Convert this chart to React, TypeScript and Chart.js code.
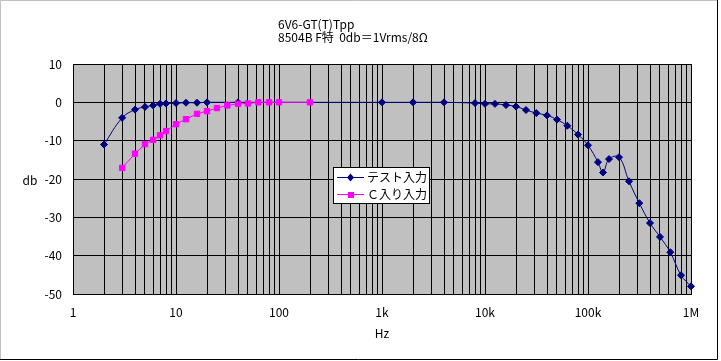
import React, { useEffect, useRef } from 'react';
import { Chart, registerables } from 'chart.js';

Chart.register(...registerables);

// ---- Data ----
const titleLines = ['6V6-GT(T)Tpp', '8504B F特  0db＝1Vrms/8Ω'];
const xAxisTitle = 'Hz';
const yAxisTitle = 'db';
const seriesNames = ['テスト入力', 'Ｃ入り入力'];

const testFreq = [2, 3, 4, 5, 6, 7, 8, 10, 12.5, 16, 20, 40, 1000, 2000, 4000, 8000, 10000, 12500, 16000, 20000, 25000, 31500, 40000, 50000, 63000, 80000, 100000, 125000, 140000, 160000, 200000, 250000, 315000, 400000, 500000, 630000, 800000, 1000000];
const testDb = [-11.0, -4.05, -1.9, -1.2, -0.8, -0.4, -0.3, -0.2, -0.1, -0.1, 0, 0, 0, 0, 0, -0.2, -0.4, -0.4, -0.7, -1.1, -2.0, -2.8, -3.4, -4.5, -6.1, -8.4, -11.2, -15.6, -18.3, -14.8, -14.3, -20.6, -26.3, -31.5, -35.1, -39.1, -45.1, -48.0];

const capFreq = [3, 4, 5, 6, 7, 8, 10, 12.5, 16, 20, 25, 31.5, 40, 50, 63, 80, 100, 200];
const capDb = [-17.1, -13.4, -10.9, -9.8, -8.6, -7.5, -5.7, -4.4, -3.0, -2.3, -1.5, -0.8, -0.4, -0.3, 0, 0, 0, 0];

const xTickValues = [1, 10, 100, 1000, 10000, 100000, 1000000];
const xTickLabels = ['1', '10', '100', '1k', '10k', '100k', '1M'];
const yMin = -50;
const yMax = 10;
const yStep = 10;

const BLUE = '#000080';
const PINK = '#FF00FF';
const FONT = '"Noto Sans CJK JP", "Noto Sans", sans-serif';

const minorTicks: number[] = [];
for (let e = 0; e < 6; e++) {
  for (let m = 1; m <= 9; m++) minorTicks.push(m * Math.pow(10, e));
}
minorTicks.push(1000000);

const decor = {
  id: 'decor',
  beforeDraw(chart: any) {
    const { ctx, chartArea: a } = chart;
    ctx.save();
    ctx.fillStyle = '#ffffff';
    ctx.fillRect(0, 0, chart.width, chart.height);
    ctx.fillStyle = '#c0c0c0';
    ctx.fillRect(a.left, a.top, a.right - a.left, a.bottom - a.top);
    ctx.restore();
  },
  afterDraw(chart: any) {
    const { ctx } = chart;
    ctx.save();
    // frame
    ctx.lineWidth = 1;
    ctx.strokeStyle = '#c0c0c0';
    ctx.beginPath();
    ctx.moveTo(0.5, 360);
    ctx.lineTo(0.5, 0.5);
    ctx.lineTo(718, 0.5);
    ctx.stroke();
    ctx.strokeStyle = '#000000';
    ctx.beginPath();
    ctx.moveTo(717.5, 0);
    ctx.lineTo(717.5, 359.5);
    ctx.lineTo(0, 359.5);
    ctx.stroke();

    // titles
    ctx.fillStyle = '#000';
    ctx.font = `12px ${FONT}`;
    ctx.textBaseline = 'middle';
    ctx.textAlign = 'left';
    ctx.fillText(titleLines[0], 278, 24);
    ctx.fillText(titleLines[1], 278, 37);
    ctx.textAlign = 'center';
    ctx.fillText(xAxisTitle, 382, 333);
    ctx.fillText(yAxisTitle, 30, 180);

    // legend
    const lx = 333, ly = 167, lw = 96, lh = 36;
    ctx.fillStyle = '#fff';
    ctx.fillRect(lx, ly, lw, lh);
    ctx.strokeStyle = '#000';
    ctx.strokeRect(lx + 0.5, ly + 0.5, lw, lh);
    const rows = [
      { y: 177, color: BLUE, shape: 'diamond' },
      { y: 194, color: PINK, shape: 'square' },
    ];
    rows.forEach((r, i) => {
      ctx.strokeStyle = r.color;
      ctx.beginPath();
      ctx.moveTo(337, r.y + 0.5);
      ctx.lineTo(364, r.y + 0.5);
      ctx.stroke();
      ctx.fillStyle = r.color;
      ctx.beginPath();
      if (r.shape === 'diamond') {
        ctx.moveTo(350.5, r.y - 3.5);
        ctx.lineTo(354, r.y + 0.5);
        ctx.lineTo(350.5, r.y + 4.5);
        ctx.lineTo(347, r.y + 0.5);
        ctx.closePath();
      } else {
        ctx.rect(348, r.y - 2, 6, 6);
      }
      ctx.fill();
      ctx.fillStyle = '#000';
      ctx.textAlign = 'left';
      ctx.fillText(seriesNames[i], 367, r.y + 0.5);
    });
    ctx.restore();
  },
};

export default function App() {
  const ref = useRef<HTMLCanvasElement | null>(null);

  useEffect(() => {
    document.body.style.margin = '0';
    const canvas = ref.current;
    if (!canvas) return;
    const chart = new Chart(canvas, {
      type: 'line',
      data: {
        datasets: [
          {
            label: seriesNames[0],
            data: testFreq.map((f, i) => ({ x: f, y: testDb[i] })),
            borderColor: BLUE,
            backgroundColor: BLUE,
            borderWidth: 1,
            pointStyle: 'rectRot',
            pointRadius: 3.5,
            pointBorderWidth: 1,
            pointBorderColor: BLUE,
            pointBackgroundColor: BLUE,
            tension: 0.4,
            order: 1,
            clip: false,
          },
          {
            label: seriesNames[1],
            data: capFreq.map((f, i) => ({ x: f, y: capDb[i] })),
            borderColor: PINK,
            backgroundColor: PINK,
            borderWidth: 1,
            pointStyle: 'rect',
            pointRadius: 3.8,
            pointBorderWidth: 1,
            pointBorderColor: PINK,
            pointBackgroundColor: PINK,
            tension: 0,
            order: 0,
            clip: false,
          },
        ],
      },
      options: {
        animation: false,
        responsive: false,
        devicePixelRatio: 1,
        layout: { padding: { top: 64, right: 30, left: 0, bottom: 0 } },
        plugins: {
          legend: { display: false },
          tooltip: { enabled: false },
          title: { display: false },
        },
        scales: {
          x: {
            type: 'logarithmic',
            min: 1,
            max: 1000000,
            afterBuildTicks: (scale: any) => {
              scale.ticks = minorTicks.map((v) => ({ value: v }));
            },
            afterFit: (scale: any) => {
              scale.height = 67;
            },
            ticks: {
              autoSkip: false,
              maxRotation: 0,
              minRotation: 0,
              padding: 11,
              color: '#000',
              font: { family: FONT, size: 12 },
              callback: (value: any) => {
                const v = Number(value);
                const idx = xTickValues.findIndex((t) => Math.abs(t - v) / t < 1e-6);
                return idx >= 0 ? xTickLabels[idx] : '';
              },
            },
            grid: { color: '#000', lineWidth: 1, drawTicks: false },
            border: { color: '#000', width: 1 },
          },
          y: {
            type: 'linear',
            min: yMin,
            max: yMax,
            afterFit: (scale: any) => {
              scale.width = 73;
            },
            ticks: {
              stepSize: yStep,
              padding: 11,
              color: '#000',
              font: { family: FONT, size: 12 },
            },
            grid: { color: '#000', lineWidth: 1, drawTicks: false },
            border: { color: '#000', width: 1 },
          },
        },
      } as any,
      plugins: [decor],
    });
    return () => chart.destroy();
  }, []);

  return (
    <div style={{ position: 'absolute', left: 0, top: 0, width: 721, height: 361 }}>
      <canvas ref={ref} width={721} height={361} style={{ display: 'block', width: 721, height: 361 }} />
    </div>
  );
}
